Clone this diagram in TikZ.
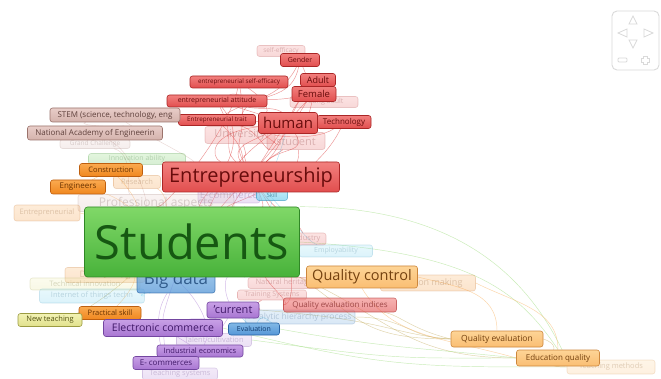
\documentclass[tikz,border=0pt]{standalone}
\usepackage{fontspec}
\setmainfont{Open Sans}
\usetikzlibrary{backgrounds}

\definecolor{redL}{RGB}{242,128,126}
\definecolor{redF}{RGB}{225,78,78}
\definecolor{redD}{RGB}{170,38,38}
\definecolor{redT}{RGB}{105,12,12}
\definecolor{orL}{RGB}{250,170,80}
\definecolor{orF}{RGB}{240,135,30}
\definecolor{orD}{RGB}{190,95,15}
\definecolor{orT}{RGB}{105,50,0}
\definecolor{peL}{RGB}{253,212,150}
\definecolor{peF}{RGB}{250,190,115}
\definecolor{peD}{RGB}{205,135,60}
\definecolor{peT}{RGB}{115,65,15}
\definecolor{grL}{RGB}{128,216,104}
\definecolor{grF}{RGB}{72,178,58}
\definecolor{grD}{RGB}{48,135,38}
\definecolor{grT}{RGB}{22,88,18}
\definecolor{blL}{RGB}{130,185,230}
\definecolor{blF}{RGB}{85,150,215}
\definecolor{blD}{RGB}{40,100,165}
\definecolor{blT}{RGB}{18,60,110}
\definecolor{cyL}{RGB}{150,225,245}
\definecolor{cyF}{RGB}{95,200,235}
\definecolor{cyD}{RGB}{50,150,190}
\definecolor{cyT}{RGB}{25,90,120}
\definecolor{puL}{RGB}{200,160,230}
\definecolor{puF}{RGB}{168,118,210}
\definecolor{puD}{RGB}{115,70,160}
\definecolor{puT}{RGB}{65,25,105}
\definecolor{yeL}{RGB}{242,242,180}
\definecolor{yeF}{RGB}{225,225,140}
\definecolor{yeD}{RGB}{155,155,65}
\definecolor{yeT}{RGB}{85,85,20}
\definecolor{brL}{RGB}{232,205,200}
\definecolor{brF}{RGB}{212,178,172}
\definecolor{brD}{RGB}{155,115,108}
\definecolor{brT}{RGB}{95,65,60}
\definecolor{navG}{RGB}{218,218,218}

\newcommand{\kwfont}[1]{\fontsize{#1}{#1}\selectfont}

\begin{document}
\begin{tikzpicture}[x=1pt,y=-1pt,
  kw/.style={rectangle,rounded corners=2.5pt,line width=0.6pt,inner xsep=2pt,inner ysep=0.5pt,minimum height=13,font=\kwfont{7.5}},
  kwR/.style={kw,draw=redD,top color=redL,bottom color=redF,text=redT},
  kwO/.style={kw,draw=orD,top color=orL,bottom color=orF,text=orT},
  kwP/.style={kw,draw=peD,top color=peL,bottom color=peF,text=peT},
  kwG/.style={kw,draw=grD,top color=grL,bottom color=grF,text=grT},
  kwB/.style={kw,draw=blD,top color=blL,bottom color=blF,text=blT},
  kwC/.style={kw,draw=cyD,top color=cyL,bottom color=cyF,text=cyT},
  kwU/.style={kw,draw=puD,top color=puL,bottom color=puF,text=puT},
  kwY/.style={kw,draw=yeD,top color=yeL,bottom color=yeF,text=yeT},
  kwW/.style={kw,draw=brD,top color=brL,bottom color=brF,text=brT},
  faded/.style={opacity=0.22},
  half/.style={opacity=0.6},
  link/.style={line width=0.45pt,opacity=0.5},
  linkR/.style={link,draw=redF,opacity=0.6},
  linkG/.style={link,draw=grL!80!yeF},
  linkY/.style={link,draw=yeD!60!peF},
  linkO/.style={link,draw=orL},
  linkU/.style={link,draw=puF},
  linkC/.style={link,draw=cyF},
  linkW/.style={link,draw=brF}]

\useasboundingbox (0,0) rectangle (661,379);

% faint labels behind
\node[kwR,faded,minimum width=48,minimum height=11,font=\kwfont{6.5}] (selfeffb) at (281,51) {self-efficacy};
\node[kwR,faded,minimum width=68,minimum height=11,font=\kwfont{7}] (youngad) at (324,102) {Young adult};
\node[kwR,faded,minimum width=70,minimum height=17,font=\kwfont{11}] (univ) at (240,135) {University};
\node[kwR,faded,minimum width=58,minimum height=17,font=\kwfont{11}] (student) at (296,141) {student};
\node[kwW,faded,minimum width=70,minimum height=9,font=\kwfont{6.5}] (grand) at (95,144) {Grand Challenge};
\node[kwG,faded,minimum width=97,minimum height=11,font=\kwfont{7}] (innov) at (137,159) {Innovation ability};
\node[kwO,faded,minimum width=47,minimum height=13,font=\kwfont{7.5}] (research) at (137,182) {Research};
\node[kwU,faded,minimum width=58,minimum height=16,font=\kwfont{10}] (commerce) at (229,195) {E-commerce};
\node[kwC,half,minimum width=31,minimum height=11,font=\kwfont{6}] (skill) at (272,195) {Skill};
\node[kwW,faded,minimum width=156,minimum height=17,font=\kwfont{12}] (profasp) at (156,203) {Professional aspects};
\node[kwO,faded,minimum width=66,minimum height=16,font=\kwfont{7.5}] (entreL) at (47,213) {Entrepreneurial};
\node[kwR,faded,minimum width=40,minimum height=12,font=\kwfont{7.5}] (industry) at (306,239) {Industry};
\node[kwC,faded,minimum width=73,minimum height=12,font=\kwfont{7}] (employ) at (336,251) {Employability};
\node[kwO,faded,minimum width=80,minimum height=15,font=\kwfont{9}] (datamin) at (105,275) {Data mining};
\node[kwY,faded,minimum width=110,minimum height=12,font=\kwfont{7.5}] (technical) at (85,284) {Technical innovation};
\node[kwC,faded,minimum width=105,minimum height=14,font=\kwfont{7.5}] (iot) at (92,296) {Internet of things techn};
\node[kwR,faded,minimum width=72,minimum height=11,font=\kwfont{7.5}] (natural) at (284,283) {Natural heritage};
\node[kwO,faded,minimum width=95,minimum height=16,font=\kwfont{9}] (decision) at (428,283) {Decision making};
\node[kwR,faded,minimum width=69,minimum height=10,font=\kwfont{7}] (training) at (272,295) {Training Systems};
\node[kwB,faded,minimum width=110,minimum height=14,font=\kwfont{8.5}] (ahp) at (300,317) {Analytic hierarchy process};
\node[kwU,faded,minimum width=75,minimum height=13,font=\kwfont{7.5}] (talent) at (214,340) {Talent cultivation};
\node[kwU,faded,minimum width=75,minimum height=12,font=\kwfont{7.5}] (teachsys) at (180,374) {Teaching systems};
\node[kwP,faded,minimum width=88,minimum height=14,font=\kwfont{7.5}] (teachmeth) at (611,367) {Teaching methods};

% red cluster
\node[kwR,minimum width=39,font=\kwfont{7}] (gender) at (300,60) {Gender};
\node[kwR,minimum width=98,minimum height=12,font=\kwfont{6.3}] (selfeff) at (239,82) {entrepreneurial self-efficacy};
\node[kwR,minimum width=35,font=\kwfont{9}] (adult) at (318,80) {Adult};
\node[kwR,minimum width=44,minimum height=15,font=\kwfont{9.5}] (female) at (314,94) {Female};
\node[kwR,minimum width=100,minimum height=12,font=\kwfont{7}] (attitude) at (217,101) {entrepreneurial attitude};
\node[kwR,minimum width=77,minimum height=11,font=\kwfont{6.3}] (trait) at (217,120) {Entrepreneurial trait};
\node[kwR,minimum width=54,font=\kwfont{8}] (technology) at (344,122) {Technology};
\node[kwR,minimum width=59,minimum height=21,font=\kwfont{15}] (human) at (288,123) {human};
\node[kwR,minimum width=177,minimum height=30,font=\kwfont{20}] (entre) at (251,177) {Entrepreneurship};
\node[kwR,half,minimum width=113,minimum height=14,font=\kwfont{8}] (qeindices) at (340,305) {Quality evaluation indices};

% brown cluster
\node[kwW,minimum width=130,minimum height=14,font=\kwfont{8}] (stem) at (115,115) {STEM (science, technology, eng};
\node[kwW,minimum width=135,minimum height=14,font=\kwfont{8}] (nae) at (95,133) {National Academy of Engineerin};

% orange cluster
\node[kwO,minimum width=63,font=\kwfont{7.5}] (construction) at (111,170) {Construction};
\node[kwO,minimum width=55,minimum height=14,font=\kwfont{8}] (engineers) at (78,187) {Engineers};
\node[kwO,minimum width=62,font=\kwfont{7.5}] (practical) at (110,313) {Practical skill};
\node[kwP,minimum width=111,minimum height=22,font=\kwfont{14.5}] (qcontrol) at (362,277) {Quality control};
\node[kwP,minimum width=92,minimum height=16,font=\kwfont{8.5}] (qeval) at (497,339) {Quality evaluation};
\node[kwP,minimum width=83,minimum height=16,font=\kwfont{8}] (eduq) at (558,358) {Education quality};

% blue, green, purple, yellow
\node[kwB,opacity=0.75,minimum width=78,minimum height=26,font=\kwfont{17}] (bigdata) at (176,280) {Big data};
\node[kwG,minimum width=215,minimum height=70,rounded corners=3pt,font=\kwfont{47}] (students) at (192,242) {Students};
\node[kwB,minimum width=51,minimum height=12,font=\kwfont{7}] (evaluation) at (254,329) {Evaluation};
\node[kwU,minimum width=52,minimum height=16,font=\kwfont{11}] (current) at (233,310) {'current};
\node[kwU,minimum width=119,minimum height=17,font=\kwfont{10.5}] (ecommerce) at (163,328) {Electronic commerce};
\node[kwU,minimum width=86,minimum height=12,font=\kwfont{7.5}] (industrial) at (200,351) {Industrial economics};
\node[kwU,minimum width=66,minimum height=13,font=\kwfont{8}] (ecommerces) at (166,363) {E- commerces};
\node[kwY,minimum width=64,font=\kwfont{7.5}] (newteach) at (50,320) {New teaching};

% navigation panel
\draw[navG,line width=0.9pt,rounded corners=5pt] (612,11) rectangle (659,70);
\draw[navG,line width=0.8pt] (629,24) -- (633,16) -- (637,24) -- cycle;
\draw[navG,line width=0.8pt] (627,29) -- (618,33) -- (627,37) -- cycle;
\draw[navG,line width=0.8pt] (644,29) -- (653,33) -- (644,37) -- cycle;
\draw[navG,line width=0.8pt] (629,40) -- (633,48) -- (637,40) -- cycle;
\draw[navG,line width=0.8pt,rounded corners=1pt] (618,58) rectangle (627,62);
\draw[navG,line width=0.8pt] (643,56) -- (643,58) -- (641,58) -- (641,62) -- (643,62) -- (643,64) -- (647,64) -- (647,62) -- (649,62) -- (649,58) -- (647,58) -- (647,56) -- cycle;

\begin{scope}[on background layer]
\fill[white] (0,0) rectangle (661,379);
% red links
\draw[linkR] (gender) -- (female);
\draw[linkR] (gender) .. controls +(-20,40) and +(30,-20) .. (trait);
\draw[linkR] (selfeff) .. controls +(30,20) and +(-20,-10) .. (human);
\draw[linkR] (selfeff) .. controls +(10,60) and +(-20,-40) .. (entre);
\draw[linkR] (selfeff) .. controls +(-10,50) and +(-30,-30) .. (students);
\draw[linkR] (attitude) -- (human);
\draw[linkR] (attitude) .. controls +(20,40) and +(-30,-30) .. (entre);
\draw[linkR] (attitude) .. controls +(50,10) and +(-10,-40) .. (student);
\draw[linkR] (attitude) .. controls +(40,50) and +(10,-50) .. (students);
\draw[linkR] (trait) .. controls +(30,30) and +(-10,-20) .. (entre);
\draw[linkR] (trait) .. controls +(40,10) and +(-30,10) .. (student);
\draw[linkR] (trait) -- (human);
\draw[linkR] (adult) .. controls +(-20,20) and +(10,-20) .. (human);
\draw[linkR] (adult) .. controls +(-40,40) and +(40,-40) .. (entre);
\draw[linkR] (adult) .. controls +(-30,60) and +(50,-60) .. (students);
\draw[linkR] (female) .. controls +(-30,30) and +(20,-30) .. (entre);
\draw[linkR] (female) .. controls +(-60,10) and +(20,-10) .. (attitude);
\draw[linkR] (female) .. controls +(-10,40) and +(10,-20) .. (student);
\draw[linkR] (gender) .. controls +(-10,50) and +(0,-50) .. (univ);
\draw[linkR] (human) .. controls +(-40,20) and +(-20,-30) .. (entre);
\draw[linkR] (human) .. controls +(20,30) and +(30,-30) .. (entre);
\draw[linkR] (human) .. controls +(-60,40) and +(20,-40) .. (students);
\draw[linkR] (human) .. controls +(-80,10) and +(-40,-20) .. (entre);
\draw[linkR] (technology) .. controls +(-20,40) and +(50,-10) .. (entre);
\draw[linkR] (technology) .. controls +(-30,20) and +(30,0) .. (univ);
\draw[linkR] (univ) .. controls +(10,30) and +(-10,-30) .. (entre);
\draw[linkR] (univ) .. controls +(40,10) and +(-40,-10) .. (student);
\draw[linkR] (student) .. controls +(-30,20) and +(20,-20) .. (entre);
\draw[linkR] (student) .. controls +(10,40) and +(40,-40) .. (students);
\draw[linkR] (entre) .. controls +(-20,30) and +(30,-20) .. (students);
\draw[linkR] (entre) .. controls +(20,40) and +(60,-30) .. (students);
\draw[linkR] (entre) .. controls +(40,60) and +(-40,0) .. (qeindices);
\draw[linkR] (entre) .. controls +(30,40) and +(-10,-20) .. (industry);
\draw[linkC] (skill) .. controls +(0,20) and +(50,-20) .. (students);
\draw[linkC] (entre) .. controls +(40,40) and +(-30,-10) .. (employ);
\draw[linkC] (human) .. controls +(-10,40) and +(0,-30) .. (skill);
% brown and orange links
\draw[linkW] (stem) .. controls +(30,20) and +(-40,-10) .. (entre);
\draw[linkW] (nae) .. controls +(40,20) and +(-40,-30) .. (students);
\draw[linkW] (stem) .. controls +(-40,10) and +(20,-5) .. (nae);
\draw[linkW] (grand) .. controls +(40,10) and +(-30,-10) .. (profasp);
\draw[linkO] (construction) .. controls +(20,20) and +(-40,-20) .. (students);
\draw[linkO] (engineers) .. controls +(40,10) and +(-40,-20) .. (students);
\draw[linkO] (engineers) -- (construction);
\draw[linkO] (research) .. controls +(30,10) and +(-20,-20) .. (students);
\draw[linkO] (entreL) .. controls +(30,0) and +(-20,-10) .. (students);
\draw[linkO] (practical) .. controls +(20,-20) and +(-30,10) .. (students);
\draw[linkO] (datamin) .. controls +(30,0) and +(-30,20) .. (students);
% purple and blue links
\draw[linkU] (ecommerce) .. controls +(30,-10) and +(-20,10) .. (current);
\draw[linkU] (industrial) -- (ecommerce);
\draw[linkU] (ecommerces) -- (ecommerce);
\draw[linkU] (talent) -- (current);
\draw[linkU] (teachsys) .. controls +(10,-20) and +(-10,10) .. (talent);
\draw[linkU] (current) .. controls +(-10,-20) and +(30,20) .. (students);
\draw[linkU] (ecommerce) .. controls +(0,-20) and +(-10,20) .. (students);
\draw[linkU] (industrial) .. controls +(20,-30) and +(-20,20) .. (students);
\draw[linkU] (ecommerces) .. controls +(-10,-30) and +(-20,30) .. (bigdata);
\draw[linkR] (training) .. controls +(-20,10) and +(30,0) .. (current);
\draw[linkR] (qeindices) .. controls +(-40,0) and +(30,10) .. (students);
\draw[linkC] (evaluation) -- (current);
\draw[linkC] (evaluation) .. controls +(10,-20) and +(-30,10) .. (ahp);
\draw[linkC] (iot) .. controls +(40,0) and +(-20,10) .. (bigdata);
\draw[linkY] (newteach) .. controls +(40,-10) and +(-40,20) .. (students);
\draw[linkY] (technical) .. controls +(30,-10) and +(-40,10) .. (students);
% long arcs to the right
\draw[linkG] (students.north east) .. controls +(150,0) and +(-40,-90) .. (teachmeth.north west);
\draw[linkG] (students.east) .. controls +(170,10) and +(-40,-60) .. (eduq.north);
\draw[linkY] (students.south east) .. controls +(90,40) and +(-110,0) .. (eduq.west);
\draw[linkY] (students.south east) .. controls +(60,40) and +(-90,0) .. (qeval.west);
\draw[linkY] (current.east) .. controls +(130,10) and +(-60,-5) .. (qeval.west);
\draw[linkG] (ecommerce.east) .. controls +(160,40) and +(-150,0) .. (teachmeth.west);
\draw[linkG] (evaluation.east) .. controls +(110,20) and +(-90,-10) .. (eduq.west);
\draw[linkG] (talent.east) .. controls +(150,20) and +(-120,0) .. (eduq.west);
\draw[linkY] (ahp.east) .. controls +(50,0) and +(-40,0) .. (qeval.west);
\draw[linkO] (qcontrol.east) .. controls +(40,10) and +(0,-40) .. (qeval.north);
\draw[linkO] (qcontrol.south) .. controls +(30,50) and +(-70,-20) .. (eduq.west);
\draw[linkO] (decision.east) .. controls +(40,20) and +(0,-40) .. (eduq.north);
\draw[linkY] (qeindices) .. controls +(60,10) and +(-40,-10) .. (qeval.west);
\draw[linkY] (qeval.east) .. controls +(30,10) and +(-40,0) .. (teachmeth.west);
\end{scope}
\end{tikzpicture}
\end{document}
